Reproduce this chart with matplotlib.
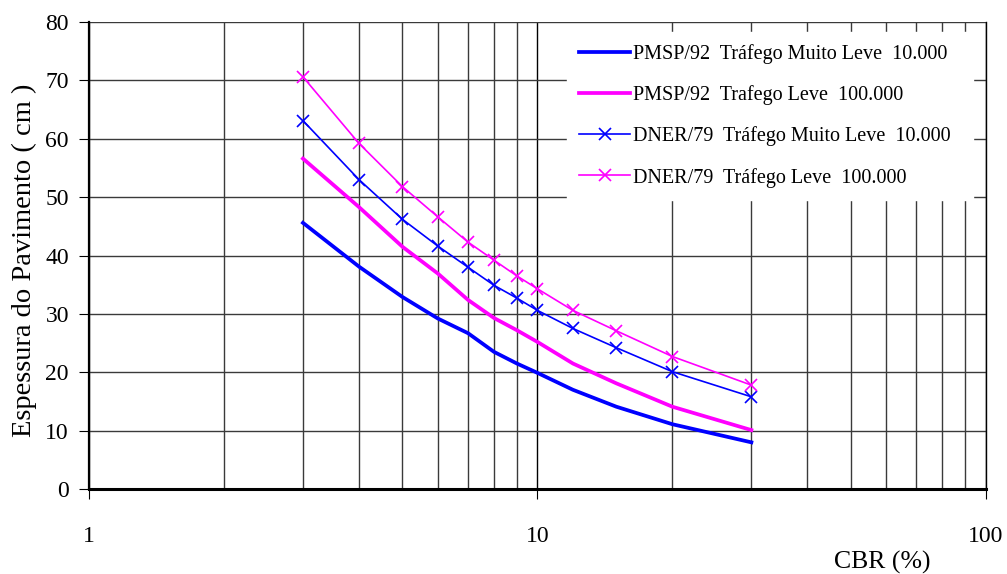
import matplotlib
matplotlib.use("Agg")
import matplotlib.pyplot as plt
from matplotlib.ticker import LogLocator, FixedLocator, NullFormatter, FixedFormatter

plt.rcParams['font.family'] = ['Liberation Serif', 'DejaVu Serif']

cbr = [3, 4, 5, 6, 7, 8, 9, 10, 12, 15, 20, 30]
pmsp_muito_leve = [45.6, 38.1, 32.9, 29.2, 26.7, 23.5, 21.5, 19.9, 17.0, 14.1, 11.1, 8.0]
pmsp_leve = [56.6, 48.3, 41.5, 36.9, 32.4, 29.3, 27.2, 25.2, 21.5, 18.1, 14.1, 10.1]
dner_muito_leve = [63.1, 53.0, 46.2, 41.6, 38.0, 34.9, 32.7, 30.6, 27.5, 24.2, 20.1, 15.8]
dner_leve = [70.6, 59.2, 51.8, 46.6, 42.3, 39.2, 36.5, 34.3, 30.6, 27.1, 22.7, 17.8]

labels = [
    "PMSP/92  Tráfego Muito Leve  10.000",
    "PMSP/92  Trafego Leve  100.000",
    "DNER/79  Tráfego Muito Leve  10.000",
    "DNER/79  Tráfego Leve  100.000",
]
xticks = [1, 10, 100]
xticklabels = ["1", "10", "100"]
yticks = [0, 10, 20, 30, 40, 50, 60, 70, 80]

fig = plt.figure(figsize=(10.07, 5.74), dpi=100)
ax = fig.add_axes([0.0884, 0.148, 0.979 - 0.0884, 0.9617 - 0.148])
ax.set_xscale('log')
ax.set_xlim(1, 100)
ax.set_ylim(0, 80)

ax.plot(cbr, pmsp_muito_leve, color='#0000FF', lw=2.7, label=labels[0], zorder=3)
ax.plot(cbr, pmsp_leve, color='#FF00FF', lw=2.7, label=labels[1], zorder=3)
ax.plot(cbr, dner_muito_leve, color='#0000FF', lw=1.2, marker='x', ms=8, mew=1.2, label=labels[2], zorder=3)
ax.plot(cbr, dner_leve, color='#FF00FF', lw=1.2, marker='x', ms=8, mew=1.2, label=labels[3], zorder=3)

ax.xaxis.set_major_locator(FixedLocator(xticks))
ax.xaxis.set_major_formatter(FixedFormatter(xticklabels))
ax.xaxis.set_minor_locator(LogLocator(base=10, subs=[2, 3, 4, 5, 6, 7, 8, 9]))
ax.xaxis.set_minor_formatter(NullFormatter())
ax.set_yticks(yticks)

ax.grid(True, which='major', axis='x', color='black', lw=1.0, zorder=1)
ax.grid(True, which='major', axis='y', color='#3a3a3a', lw=1.0, zorder=1)
ax.grid(True, which='minor', axis='x', color='#3a3a3a', lw=1.0, zorder=1)

ax.spines['top'].set_visible(False)
ax.spines['right'].set_linewidth(1.0)
ax.spines['left'].set_linewidth(1.6)
ax.spines['bottom'].set_linewidth(2.2)

ax.tick_params(axis='x', which='major', direction='out', length=7.5, width=0.8, pad=19, labelsize=17)
ax.tick_params(axis='x', which='minor', length=0)
ax.tick_params(axis='y', which='major', direction='out', length=7.5, width=0.8, pad=7, labelsize=17)

ax.set_ylabel("Espessura do Pavimento ( cm )", fontsize=20.5)
ax.yaxis.set_label_coords(-0.058, 0.49)
ax.set_xlabel("CBR (%)", fontsize=18.5)
ax.xaxis.set_label_coords(0.885, -0.158)
ax.xaxis.label.set_va('center')

x0 = (567 - 89) / 897
x1 = (973 - 89) / 897
ytop = (489 - 32) / 467
leg = ax.legend(loc='upper left', bbox_to_anchor=(x0, ytop - 0.5, x1 - x0, 0.5), mode='expand',
                frameon=True, fancybox=False, framealpha=1, edgecolor='white', fontsize=14.5,
                handlelength=2.5, handletextpad=0.15, labelspacing=1.05, borderpad=0.62,
                borderaxespad=0)
leg.set_zorder(5)

fig.savefig("out.png", dpi=100)
